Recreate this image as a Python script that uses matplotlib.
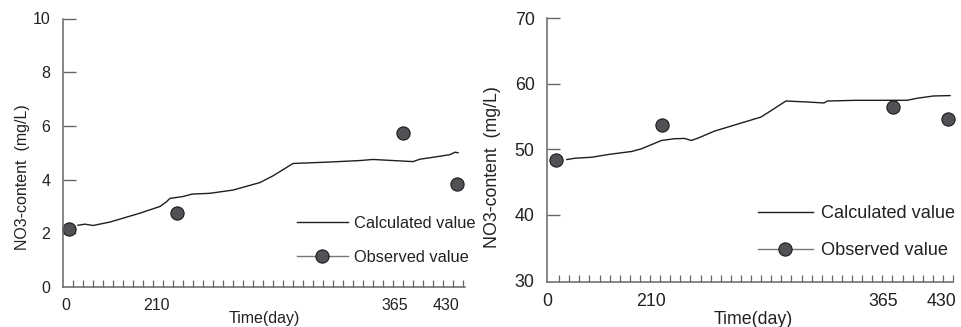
import matplotlib
matplotlib.use("Agg")
import matplotlib.pyplot as plt
from matplotlib.lines import Line2D

plt.rcParams['font.family'] = ['Liberation Sans', 'DejaVu Sans']

# ---- data (x in evenly spaced axis units, one minor tick per unit) ----
tick_labels = ['0', '210', '365', '430']

# left panel
left_label_pos = [0.27, 9.4, 33.2, 38.3]
left_calc_x = [1.5, 2.2, 3.0, 4.7, 7.7, 9.7, 10.3, 10.7, 12.0, 12.9, 14.7, 17.0,
               19.7, 21.0, 23.0, 26.4, 29.7, 31.0, 34.0, 35.0, 35.7, 37.0, 38.7, 39.2, 39.5]
left_calc_y = [2.30, 2.34, 2.29, 2.42, 2.75, 3.00, 3.16, 3.30, 3.37, 3.46, 3.49, 3.61,
               3.89, 4.14, 4.60, 4.65, 4.71, 4.75, 4.69, 4.67, 4.76, 4.83, 4.93, 5.02, 5.00]
left_obs_x = [0.6, 11.4, 34.0, 39.4]
left_obs_y = [2.17, 2.75, 5.73, 3.82]

# right panel
right_label_pos = [-0.2, 10.1, 33.1, 38.9]
right_calc_x = [1.77, 2.59, 4.24, 5.88, 8.18, 9.16, 11.13, 12.44, 13.43, 14.09, 14.75, 16.38,
                19.01, 20.99, 22.30, 23.45, 25.59, 27.22, 27.56, 30.51, 35.44, 36.45, 38.06, 39.70]
right_calc_y = [48.42, 48.62, 48.77, 49.19, 49.65, 50.06, 51.33, 51.60, 51.64, 51.33, 51.69, 52.76,
                53.99, 54.91, 56.20, 57.36, 57.21, 57.06, 57.36, 57.47, 57.47, 57.78, 58.13, 58.19]
right_obs_x = [0.69, 11.23, 34.09, 39.51]
right_obs_y = [48.4, 53.7, 56.5, 54.6]

W, H = 961, 327
fig = plt.figure(figsize=(W / 100, H / 100), dpi=100)

def px_axes(x0, x1, ytop, ybot):
    return fig.add_axes([x0 / W, 1 - ybot / H, (x1 - x0) / W, (ybot - ytop) / H])

axL = px_axes(63, 465, 18.5, 287)
axR = px_axes(547, 953, 18.3, 281.7)

line_c = '#1e1e1e'
spine_c = '#666666'
mface = '#505256'
medge = '#1a1a1a'

def style(ax, xlim, ylim, yticks, label_pos, fs, ylab_coords, xlab_coords, leg_anchor,
          handlelen, textpad, lspacing, msize):
    ax.set_xlim(*xlim)
    ax.set_ylim(*ylim)
    for s in ['top', 'right']:
        ax.spines[s].set_visible(False)
    for s in ['left', 'bottom']:
        ax.spines[s].set_color(spine_c)
        ax.spines[s].set_linewidth(1.1)
    ax.set_yticks(yticks)
    ax.tick_params(axis='y', direction='in', length=9, width=1, color=spine_c,
                   labelsize=fs, pad=9, labelcolor='#222222')
    ax.yaxis.get_major_ticks()[0].tick1line.set_visible(False)
    ax.set_xticks(label_pos)
    ax.set_xticklabels(tick_labels)
    ax.set_xticks(list(range(1, 41)), minor=True)
    ax.tick_params(axis='x', which='major', length=0, labelsize=fs, pad=8, labelcolor='#222222')
    ax.tick_params(axis='x', which='minor', direction='in', length=5, width=0.9, color=spine_c)
    ax.set_ylabel('NO3-content  (mg/L)', fontsize=fs, color='#222222')
    ax.yaxis.set_label_coords(*ylab_coords)
    ax.set_xlabel('Time(day)', fontsize=fs, color='#222222')
    ax.xaxis.set_label_coords(*xlab_coords)
    h1 = Line2D([], [], color=line_c, lw=1.0)
    h2 = Line2D([], [], color='#777777', lw=1.0, marker='o', markersize=msize,
                markerfacecolor=mface, markeredgecolor=medge, markeredgewidth=0.8)
    ax.legend([h1, h2], ['Calculated value', 'Observed value'], loc='upper left',
              bbox_to_anchor=leg_anchor, frameon=False, fontsize=fs + 0.3,
              handlelength=handlelen, handletextpad=textpad, labelspacing=lspacing,
              borderpad=0, borderaxespad=0, labelcolor='#222222')

style(axL, (0, 40.2), (0.15, 10), [0, 2, 4, 6, 8, 10], left_label_pos, 11.5,
      (-0.082, 0.41), (0.5, -0.09), (0.582, 0.264), 3.1, 0.35, 1.15, 9.5)
style(axR, (0, 40), (29.75, 70), [30, 40, 50, 60, 70], right_label_pos, 12.8,
      (-0.113, 0.435), (0.507, -0.112), (0.52, 0.291), 3.0, 0.45, 1.1, 9.5)

axL.plot(left_calc_x, left_calc_y, color=line_c, lw=1.0)
axL.plot(left_obs_x, left_obs_y, linestyle='none', marker='o', markersize=9.5,
         markerfacecolor=mface, markeredgecolor=medge, markeredgewidth=0.8, clip_on=False)
axR.plot(right_calc_x, right_calc_y, color=line_c, lw=1.0)
axR.plot(right_obs_x, right_obs_y, linestyle='none', marker='o', markersize=9.5,
         markerfacecolor=mface, markeredgecolor=medge, markeredgewidth=0.8, clip_on=False)

fig.savefig('out.png', dpi=100, facecolor='white')
